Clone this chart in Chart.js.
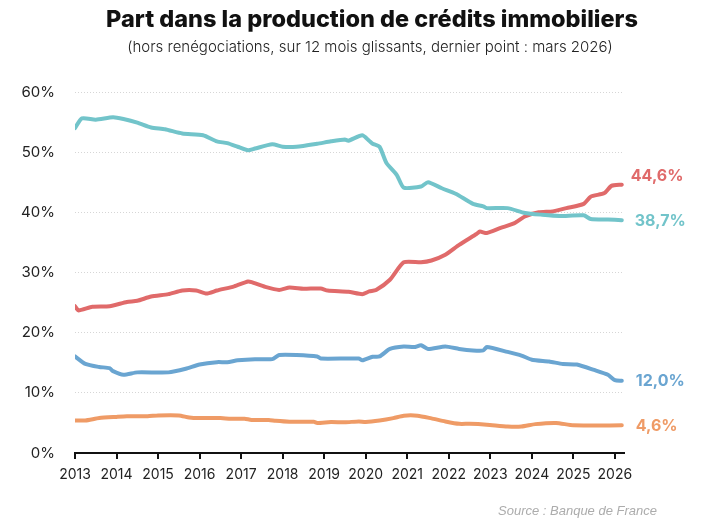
<!DOCTYPE html>
<html>
<head>
<meta charset="utf-8">
<script src="https://cdn.jsdelivr.net/npm/chart.js@4.4.1/dist/chart.umd.min.js"></script>
<style>
  body { margin: 0; background: #fff; }
  #wrap { position: relative; width: 704px; height: 529px; font-family: Inter, "Noto Sans", sans-serif; }
  #c { position: absolute; left: 0; top: 0; }
  .title { position: absolute; left: 0; width: 744px; top: 4px; text-align: center; font-size: 23.5px; font-weight: 800; color: #111; }
  .subtitle { position: absolute; left: 0; width: 740px; top: 37px; text-align: center; font-size: 15px; font-weight: 300; color: #222; }
  .source { position: absolute; right: 47px; top: 503px; font-family: "Liberation Sans", Arial, sans-serif; font-style: italic; font-size: 13px; color: #acacac; }
</style>
</head>
<body>
<div id="wrap">
  <canvas id="c" width="704" height="529"></canvas>
  <div class="title">Part dans la production de crédits immobiliers</div>
  <div class="subtitle">(hors renégociations, sur 12 mois glissants, dernier point : mars 2026)</div>
  <div class="source">Source : Banque de France</div>
</div>
<script>
// year ticks on the x axis and % ticks on the y axis
const yearTicks = [2013, 2014, 2015, 2016, 2017, 2018, 2019, 2020, 2021, 2022, 2023, 2024, 2025, 2026];
const pctTicks = [0, 10, 20, 30, 40, 50, 60];

// teal series
const tealDates = ['2013-01','2013-03','2013-07','2013-12','2014-03','2014-07','2014-11','2015-03','2015-08','2016-02','2016-06','2016-09','2016-12','2017-03','2017-05','2017-10','2018-01','2018-05','2018-11','2019-03','2019-07','2019-08','2019-12','2020-02','2020-03','2020-05','2020-07','2020-10','2020-12','2021-05','2021-07','2021-11','2022-03','2022-08','2022-11','2022-12','2023-06','2023-11','2024-04','2024-09','2025-04','2025-06','2025-11','2026-03'];
const tealValues = [54.0,55.6,55.4,55.8,55.5,54.9,54.1,53.8,53.1,52.8,51.8,51.5,50.9,50.3,50.6,51.3,50.9,50.9,51.4,51.8,52.1,51.9,52.8,51.9,51.4,50.9,48.2,46.2,44.1,44.3,45.0,44.0,43.1,41.4,41.0,40.7,40.7,39.9,39.6,39.4,39.5,38.9,38.8,38.7];

// red series
const redDates = ['2013-01','2013-02','2013-06','2013-11','2014-04','2014-07','2014-11','2015-04','2015-08','2015-12','2016-03','2016-06','2016-11','2017-03','2017-04','2017-08','2017-12','2018-03','2018-07','2018-12','2019-02','2019-08','2019-12','2020-02','2020-04','2020-08','2020-12','2021-05','2021-08','2021-12','2022-04','2022-09','2022-10','2022-12','2023-04','2023-08','2023-11','2024-03','2024-07','2024-11','2025-04','2025-06','2025-10','2025-12','2026-03'];
const redValues = [24.4,23.7,24.3,24.4,25.1,25.3,26.0,26.4,27.0,27.0,26.5,27.0,27.7,28.5,28.4,27.6,27.1,27.5,27.3,27.35,27.0,26.8,26.4,26.85,27.1,28.8,31.7,31.7,32.0,32.95,34.6,36.4,36.8,36.55,37.4,38.2,39.3,40.0,40.15,40.7,41.4,42.6,43.2,44.4,44.6];

// blue series
const blueDates = ['2013-01','2013-04','2013-08','2013-11','2013-12','2014-03','2014-07','2015-04','2015-09','2016-01','2016-06','2016-09','2016-12','2017-05','2017-10','2017-12','2018-05','2018-11','2018-12','2019-11','2019-12','2020-03','2020-05','2020-08','2020-12','2021-03','2021-05','2021-07','2021-12','2022-04','2022-08','2022-11','2022-12','2023-06','2023-10','2024-01','2024-06','2024-10','2025-02','2025-07','2025-11','2026-01','2026-03'];
const blueValues = [16.05,14.8,14.3,14.1,13.6,13.0,13.4,13.4,14.0,14.7,15.1,15.1,15.4,15.6,15.6,16.3,16.3,16.05,15.7,15.7,15.4,16.0,16.05,17.3,17.7,17.6,17.9,17.3,17.7,17.3,17.05,17.05,17.6,16.8,16.2,15.5,15.2,14.8,14.7,13.8,13.0,12.1,12.0];

// orange series
const orangeDates = ['2013-01','2013-04','2013-08','2014-01','2014-04','2014-10','2015-01','2015-07','2015-10','2016-01','2016-07','2016-10','2017-02','2017-04','2017-09','2017-11','2018-03','2018-10','2018-11','2019-03','2019-07','2019-11','2020-01','2020-05','2020-09','2020-12','2021-04','2021-08','2021-12','2022-04','2022-07','2022-12','2023-06','2023-10','2024-02','2024-08','2025-01','2026-03'];
const orangeValues = [5.4,5.4,5.8,6.0,6.1,6.1,6.25,6.25,5.9,5.8,5.8,5.7,5.7,5.5,5.5,5.35,5.2,5.2,5.0,5.15,5.1,5.25,5.15,5.4,5.8,6.2,6.2,5.75,5.25,4.85,4.85,4.7,4.4,4.4,4.8,5.0,4.6,4.6];

function toYear(d) {
  const [y, m] = d.split('-').map(Number);
  return y + (m - 1) / 12;
}
function points(dates, values) {
  return dates.map((d, i) => ({ x: toYear(d), y: values[i] }));
}

function line(dates, values, color, dx, dy) {
  return {
    data: points(dates, values),
    borderColor: color,
    borderWidth: 4,
    borderCapStyle: 'round',
    borderJoinStyle: 'round',
    pointRadius: 0,
    tension: 0.2,
    labelDx: dx,
    labelDy: dy
  };
}

// value label at the end of each line
const endLabels = {
  id: 'endLabels',
  afterDatasetsDraw(chart) {
    const ctx = chart.ctx;
    chart.data.datasets.forEach((ds, i) => {
      const meta = chart.getDatasetMeta(i);
      const pt = meta.data[meta.data.length - 1];
      const v = ds.data[ds.data.length - 1].y;
      ctx.save();
      ctx.font = '700 16px Inter, "Noto Sans", sans-serif';
      ctx.fillStyle = ds.borderColor;
      ctx.textBaseline = 'middle';
      ctx.fillText(v.toFixed(1).replace('.', ',') + '%', pt.x + ds.labelDx, pt.y + ds.labelDy);
      ctx.restore();
    });
  }
};

new Chart(document.getElementById('c'), {
  type: 'line',
  data: {
    datasets: [
      line(tealDates, tealValues, '#72c4ca', 13, 1),
      line(redDates, redValues, '#e06a6a', 9, -8),
      line(blueDates, blueValues, '#6aa5d1', 14, 0),
      line(orangeDates, orangeValues, '#ef9b66', 14, 1)
    ]
  },
  options: {
    responsive: false,
    animation: false,
    layout: { padding: { top: 92, right: 80, bottom: 0, left: 0 } },
    plugins: { legend: { display: false }, tooltip: { enabled: false } },
    scales: {
      x: {
        type: 'linear',
        min: 2013,
        max: 2026.22,
        afterBuildTicks: s => { s.ticks = yearTicks.map(v => ({ value: v })); },
        afterFit: s => { s.height = 76; },
        ticks: {
          callback: v => String(v),
          autoSkip: false,
          maxRotation: 0,
          padding: 7,
          color: '#222',
          font: { family: 'Inter', size: 14 }
        },
        grid: { drawOnChartArea: false, drawTicks: true, tickLength: 6, color: '#111', lineWidth: 2 },
        border: { display: true, color: '#111', width: 2 }
      },
      y: {
        min: 0,
        max: 60,
        afterBuildTicks: s => { s.ticks = pctTicks.map(v => ({ value: v })); },
        afterFit: s => { s.width = 75; },
        ticks: {
          callback: v => v + '%',
          padding: 20,
          color: '#222',
          font: { family: 'Inter', size: 15 }
        },
        grid: { drawTicks: false, color: '#d6d6d6', lineWidth: 1 },
        border: { display: false, dash: [1, 2] }
      }
    }
  },
  plugins: [endLabels]
});
</script>
</body>
</html>
